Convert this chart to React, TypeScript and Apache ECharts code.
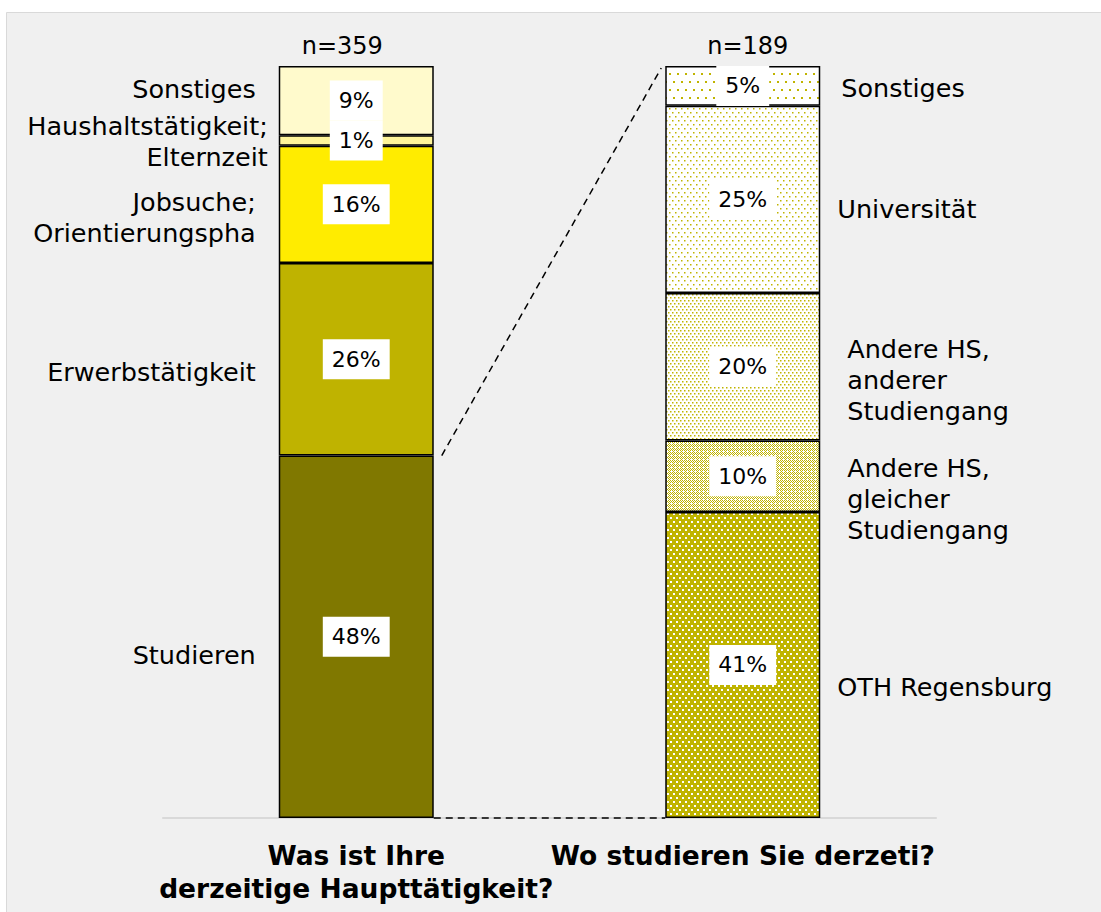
import React, { useEffect, useRef } from "react";
import * as echarts from "echarts";

const axisTitles = ["Was ist Ihre\nderzeitige Haupttätigkeit?", "Wo studieren Sie derzeti?"];
const sampleSizes = ["n=359", "n=189"];

// left bar (bottom -> top)
const leftCats = ["Studieren", "Erwerbstätigkeit", "Jobsuche;\nOrientierungspha", "Haushaltstätigkeit;\nElternzeit", "Sonstiges"];
const leftVals = [48.2, 25.6, 15.6, 1.4, 9.2];

// right bar (bottom -> top)
const rightCats = ["OTH Regensburg", "Andere HS,\ngleicher\nStudiengang", "Andere HS,\nanderer\nStudiengang", "Universität", "Sonstiges"];
const rightVals = [40.7, 9.5, 19.6, 24.9, 5.3];

const FONT = "DejaVu Sans";
const OLIVE = "#C0B400";

// layout tweaks for name labels (not data)
const leftNameOffsets = [[0, 18], [0, 13], [0, 13], [12, 1], [0, -12]];
const rightNameOffsets = [[0, 22], [10, 23], [10, 13], [0, 10], [4, 2]];

function dotPattern(bg: string, fg: string, w: number, h: number, dots: number[][], size: number) {
  const c = document.createElement("canvas");
  c.width = w;
  c.height = h;
  const ctx = c.getContext("2d")!;
  ctx.fillStyle = bg;
  ctx.fillRect(0, 0, w, h);
  ctx.fillStyle = fg;
  dots.forEach(([x, y]) => ctx.fillRect(x, y, size, size));
  return { image: c.toDataURL(), repeat: "repeat", imageWidth: w, imageHeight: h } as any;
}

export default function App() {
  const ref = useRef<HTMLDivElement>(null);

  useEffect(() => {
    const chart = echarts.init(ref.current!, null, { renderer: "svg" });

    const leftColors = ["#807800", "#BFB300", "#FFEC00", "#FFF59A", "#FFFACC"];
    const rightColors = [
      dotPattern(OLIVE, "#ffffff", 6, 8, [[1, 1], [4, 5]], 2),
      dotPattern("#ffffff", OLIVE, 4, 4, [[0, 0], [2, 0], [1, 1], [3, 1], [0, 2], [2, 2], [1, 3]], 1),
      dotPattern("#ffffff", OLIVE, 4, 6, [[0, 0], [2, 3]], 1.5),
      dotPattern("#ffffff", OLIVE, 6, 8, [[0, 0], [3, 4]], 1.5),
      dotPattern("#ffffff", OLIVE, 8, 16, [[1, 1], [5, 9]], 2),
    ];

    const pctLabel = {
      show: true,
      position: "inside",
      formatter: (p: any) => Math.round(p.value) + "%",
      backgroundColor: "#ffffff",
      padding: [7, 9, 6, 9],
      color: "#000",
      fontFamily: FONT,
      fontSize: 22,
      lineHeight: 27,
    };

    const nameStyle = {
      color: "#000",
      fontFamily: FONT,
      fontSize: 25.5,
      lineHeight: 31,
    };

    const gridCfg = { left: 163, right: 165, top: 66, bottom: 94 };

    const series: any[] = [];
    leftVals.forEach((v, i) => {
      series.push({
        type: "bar",
        name: leftCats[i],
        stack: "total",
        barWidth: 155,
        data: [v, "-"],
        itemStyle: { color: leftColors[i], borderColor: "#000", borderWidth: 1.5 },
        label: pctLabel,
        silent: true,
      });
    });
    rightVals.forEach((v, i) => {
      series.push({
        type: "bar",
        name: rightCats[i],
        stack: "total",
        barWidth: 155,
        data: ["-", v],
        itemStyle: { color: rightColors[i], borderColor: "#000", borderWidth: 1.5 },
        label: pctLabel,
        silent: true,
      });
    });
    // overlay series carrying the category names
    leftVals.forEach((v, i) => {
      series.push({
        type: "bar",
        stack: "names",
        barWidth: 155,
        xAxisIndex: 2,
        yAxisIndex: 1,
        data: [v, "-"],
        itemStyle: { color: "rgba(0,0,0,0)" },
        silent: true,
        label: {
          show: true,
          position: "left",
          distance: 23,
          offset: leftNameOffsets[i],
          formatter: () => leftCats[i],
          align: "right",
          ...nameStyle,
        },
      });
    });
    rightVals.forEach((v, i) => {
      series.push({
        type: "bar",
        stack: "names",
        barWidth: 155,
        xAxisIndex: 2,
        yAxisIndex: 1,
        data: ["-", v],
        itemStyle: { color: "rgba(0,0,0,0)" },
        silent: true,
        label: {
          show: true,
          position: "right",
          distance: 17,
          offset: rightNameOffsets[i],
          formatter: () => rightCats[i],
          align: "left",
          ...nameStyle,
        },
      });
    });

    chart.setOption({
      animation: false,
      backgroundColor: "#ffffff",
      textStyle: { fontFamily: FONT },
      graphic: [
        {
          id: "panel",
          type: "rect",
          z: -10,
          silent: true,
          shape: { x: 6.5, y: 12.5, width: 1200, height: 1000 },
          style: { fill: "#f0f0f0", stroke: "#d9d9d9", lineWidth: 1 },
        },
      ],
      grid: [gridCfg, gridCfg],
      xAxis: [
        {
          type: "category",
          gridIndex: 0,
          data: axisTitles,
          axisLine: { show: true, lineStyle: { color: "#d9d9d9", width: 2 } },
          axisTick: { show: false },
          axisLabel: {
            interval: 0,
            margin: 21,
            color: "#000",
            fontFamily: FONT,
            fontWeight: "bold",
            fontSize: 26.5,
            lineHeight: 33,
          },
        },
        {
          type: "category",
          gridIndex: 0,
          position: "top",
          data: [
            { value: sampleSizes[0], textStyle: { padding: [0, 28, 0, 0] } },
            { value: sampleSizes[1], textStyle: { padding: [0, 0, 0, 10] } },
          ],
          axisLine: { show: false },
          axisTick: { show: false },
          axisLabel: { interval: 0, margin: 8, color: "#000", fontFamily: FONT, fontSize: 24 },
        },
        { type: "category", gridIndex: 1, data: axisTitles, show: false },
      ],
      yAxis: [
        { type: "value", gridIndex: 0, min: 0, max: 100, show: false, splitLine: { show: false } },
        { type: "value", gridIndex: 1, min: 0, max: 100, show: false, splitLine: { show: false } },
      ],
      series,
    });

    // dashed connector lines, positioned through the chart's own scales
    const half = 155 / 2;
    const studTop = chart.convertToPixel({ xAxisIndex: 0, yAxisIndex: 0 }, [0, leftVals[0]]) as number[];
    const leftBase = chart.convertToPixel({ xAxisIndex: 0, yAxisIndex: 0 }, [0, 0]) as number[];
    const rightTotal = rightVals.reduce((a, b) => a + b, 0);
    const rightTop = chart.convertToPixel({ xAxisIndex: 0, yAxisIndex: 0 }, [1, rightTotal]) as number[];
    const rightBase = chart.convertToPixel({ xAxisIndex: 0, yAxisIndex: 0 }, [1, 0]) as number[];

    chart.setOption({
      graphic: [
        {
          id: "dash1",
          type: "line",
          z: 10,
          silent: true,
          shape: { x1: studTop[0] + half + 8, y1: studTop[1], x2: rightTop[0] - half - 4, y2: rightTop[1] + 2 },
          style: { stroke: "#000", lineWidth: 1.5, lineDash: [7, 5] },
        },
        {
          id: "dash2",
          type: "line",
          z: 10,
          silent: true,
          shape: { x1: leftBase[0] + half, y1: leftBase[1], x2: rightBase[0] - half, y2: rightBase[1] },
          style: { stroke: "#000", lineWidth: 1.5, lineDash: [7, 5] },
        },
      ],
    });

    return () => chart.dispose();
  }, []);

  return (
    <div
      ref={ref}
      style={{ position: "absolute", left: 0, top: 0, width: 1101, height: 912 }}
    />
  );
}
